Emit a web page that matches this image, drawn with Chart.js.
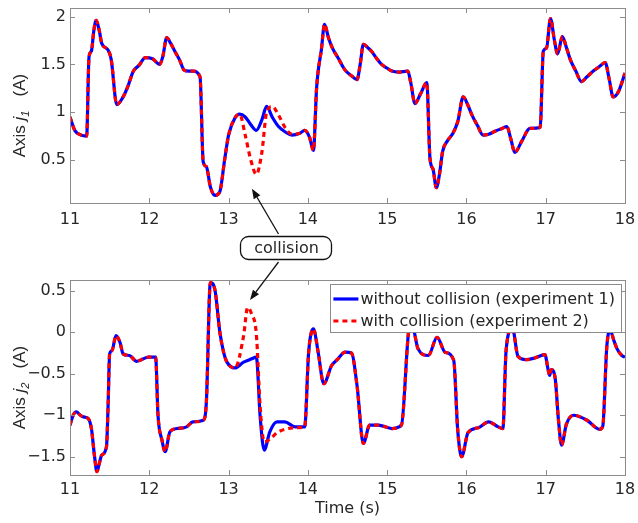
<!DOCTYPE html>
<html><head><meta charset="utf-8">
<script src="https://cdn.jsdelivr.net/npm/chart.js@4"></script>
<style>
html,body{margin:0;padding:0;background:#fff;}
#wrap{position:relative;width:638px;height:523px;overflow:hidden;}
canvas{position:absolute;left:0;top:0;}
</style></head><body>
<div id="wrap"><canvas id="c1" width="638" height="523"></canvas><canvas id="c2" width="638" height="523"></canvas></div>
<script>
// ---------- data ----------
const timeTop = [11.00,11.06,11.14,11.21,11.24,11.27,11.30,11.33,11.37,11.40,11.48,11.52,11.59,11.67,11.73,11.80,11.87,11.95,12.04,12.13,12.17,12.22,12.27,12.32,12.38,12.44,12.50,12.55,12.64,12.68,12.72,12.77,12.83,12.89,12.95,13.00,13.08,13.14,13.21,13.28,13.35,13.42,13.48,13.55,13.63,13.72,13.80,13.90,13.96,14.02,14.07,14.11,14.13,14.17,14.21,14.26,14.31,14.38,14.47,14.55,14.62,14.66,14.70,14.75,14.80,14.87,14.93,15.00,15.06,15.15,15.26,15.30,15.35,15.42,15.50,15.54,15.58,15.62,15.66,15.70,15.76,15.83,15.89,15.96,16.02,16.07,16.14,16.21,16.28,16.36,16.45,16.51,16.56,16.61,16.70,16.80,16.93,16.97,17.01,17.06,17.11,17.15,17.21,17.26,17.31,17.38,17.45,17.52,17.60,17.68,17.75,17.80,17.85,17.92,18.00];
const topExp1 = [0.95,0.81,0.76,0.75,1.58,1.64,1.85,1.96,1.85,1.72,1.65,1.55,1.08,1.16,1.27,1.43,1.49,1.57,1.56,1.50,1.58,1.78,1.72,1.64,1.55,1.44,1.43,1.43,1.37,0.48,0.43,0.22,0.13,0.17,0.50,0.76,0.94,0.98,0.95,0.87,0.81,0.92,1.06,0.95,0.85,0.79,0.76,0.78,0.81,0.74,0.60,1.25,1.43,1.65,1.92,1.78,1.67,1.57,1.44,1.38,1.34,1.50,1.71,1.68,1.64,1.56,1.50,1.46,1.43,1.42,1.43,1.30,1.09,1.19,1.31,0.52,0.40,0.21,0.35,0.59,0.70,0.78,0.90,1.16,1.07,0.97,0.86,0.76,0.77,0.80,0.83,0.85,0.72,0.58,0.70,0.83,0.84,1.64,1.67,1.98,1.75,1.61,1.79,1.68,1.55,1.43,1.32,1.37,1.43,1.48,1.52,1.35,1.16,1.22,1.41];
const topExp2 = [0.95,0.81,0.76,0.75,1.58,1.64,1.85,1.96,1.85,1.72,1.65,1.55,1.08,1.16,1.27,1.43,1.49,1.57,1.56,1.50,1.58,1.78,1.72,1.64,1.55,1.44,1.43,1.43,1.37,0.48,0.43,0.22,0.13,0.17,0.50,0.76,0.94,0.98,0.76,0.50,0.35,0.58,1.00,1.06,0.97,0.83,0.77,0.78,0.81,0.74,0.60,1.25,1.43,1.65,1.92,1.78,1.67,1.57,1.44,1.38,1.34,1.50,1.71,1.68,1.64,1.56,1.50,1.46,1.43,1.42,1.43,1.30,1.09,1.19,1.31,0.52,0.40,0.21,0.35,0.59,0.70,0.78,0.90,1.16,1.07,0.97,0.86,0.76,0.77,0.80,0.83,0.85,0.72,0.58,0.70,0.83,0.84,1.64,1.67,1.98,1.75,1.61,1.79,1.68,1.55,1.43,1.32,1.37,1.43,1.48,1.52,1.35,1.16,1.22,1.41];

const timeBottom = [11.00,11.04,11.08,11.13,11.17,11.23,11.27,11.31,11.34,11.37,11.40,11.46,11.48,11.50,11.53,11.58,11.63,11.67,11.75,11.84,11.90,11.99,12.08,12.11,12.16,12.20,12.26,12.35,12.47,12.55,12.68,12.72,12.77,12.83,12.89,12.94,12.98,13.08,13.19,13.24,13.29,13.35,13.40,13.45,13.52,13.61,13.71,13.84,13.96,14.01,14.07,14.13,14.20,14.30,14.37,14.47,14.55,14.62,14.70,14.78,14.89,15.06,15.18,15.27,15.31,15.39,15.52,15.63,15.73,15.84,15.89,15.94,16.02,16.15,16.28,16.40,16.46,16.50,16.58,16.65,16.75,16.86,16.99,17.03,17.05,17.07,17.12,17.16,17.20,17.26,17.35,17.52,17.68,17.72,17.77,17.81,17.86,17.90,17.96,18.00];
const bottomExp1 = [-1.12,-1.00,-0.96,-1.00,-1.02,-1.04,-1.16,-1.50,-1.68,-1.58,-1.48,-1.38,-0.90,-0.26,-0.22,-0.04,-0.12,-0.26,-0.28,-0.35,-0.33,-0.30,-0.30,-1.00,-1.30,-1.44,-1.20,-1.16,-1.14,-1.08,-1.06,-0.84,0.60,0.50,0.00,-0.25,-0.36,-0.43,-0.36,-0.34,-0.32,-0.30,-1.04,-1.42,-1.20,-1.08,-1.08,-1.14,-1.14,-0.24,0.04,-0.24,-0.62,-0.40,-0.33,-0.24,-0.25,-0.64,-1.34,-1.12,-1.12,-1.16,-1.12,0.00,0.10,-0.20,-0.28,-0.06,-0.24,-0.34,-1.18,-1.50,-1.21,-1.15,-1.08,-1.14,-1.16,-0.22,0.05,-0.29,-0.33,-0.31,-0.27,-0.45,-0.52,-0.45,-0.56,-1.05,-1.36,-1.11,-1.00,-1.06,-1.17,-1.13,-0.18,0.03,-0.10,-0.20,-0.28,-0.30];
const bottomExp2 = [-1.12,-1.00,-0.96,-1.00,-1.02,-1.04,-1.16,-1.50,-1.68,-1.58,-1.48,-1.38,-0.90,-0.26,-0.22,-0.04,-0.12,-0.26,-0.28,-0.35,-0.33,-0.30,-0.30,-1.00,-1.30,-1.44,-1.20,-1.16,-1.14,-1.08,-1.06,-0.84,0.60,0.50,0.00,-0.25,-0.36,-0.43,-0.04,0.30,0.22,-0.02,-0.92,-1.32,-1.29,-1.21,-1.17,-1.15,-1.14,-0.24,0.04,-0.24,-0.62,-0.40,-0.33,-0.24,-0.25,-0.64,-1.34,-1.12,-1.12,-1.16,-1.12,0.00,0.10,-0.20,-0.28,-0.06,-0.24,-0.34,-1.18,-1.50,-1.21,-1.15,-1.08,-1.14,-1.16,-0.22,0.05,-0.29,-0.33,-0.31,-0.27,-0.45,-0.52,-0.45,-0.56,-1.05,-1.36,-1.11,-1.00,-1.06,-1.17,-1.13,-0.18,0.03,-0.10,-0.20,-0.28,-0.30];

const seriesLabels = ['without collision (experiment 1)', 'with collision (experiment 2)'];
const yTitles = ['1', '2'];        // joint subscripts for "Axis j_n (A)"
const xTitle = 'Time (s)';
const noteText = 'collision';
const noteTipTop = {x: 13.295, y: 0.20};     // arrow tip, data coords of upper axes
const noteTipBottom = {x: 13.27, y: 0.39};   // arrow tip, data coords of lower axes

// ---------- styling ----------
const TXT = '#262626';
const FRAME = '#8c8c8c';
const TICKFONT = {family: '"DejaVu Sans", sans-serif', size: 16};
const charts = {};

function fmt(v){ const r = Math.round(v*100)/100; return (r < 0 ? '\u2212' : '') + Math.abs(r); }

const framePlugin = {
  id: 'frame',
  afterDraw(chart){
    const {ctx, chartArea: a, scales} = chart;
    ctx.save();
    ctx.strokeStyle = FRAME; ctx.lineWidth = 1;
    ctx.strokeRect(Math.round(a.left)+0.5, Math.round(a.top)+0.5, Math.round(a.right-a.left), Math.round(a.bottom-a.top));
    ctx.beginPath();
    const L = 5;
    scales.x.ticks.forEach(t => {
      const x = Math.round(scales.x.getPixelForValue(t.value)) + 0.5;
      ctx.moveTo(x, a.bottom); ctx.lineTo(x, a.bottom - L);
      ctx.moveTo(x, a.top); ctx.lineTo(x, a.top + L);
    });
    scales.y.ticks.forEach(t => {
      const y = Math.round(scales.y.getPixelForValue(t.value)) + 0.5;
      ctx.moveTo(a.left, y); ctx.lineTo(a.left + L, y);
      ctx.moveTo(a.right, y); ctx.lineTo(a.right - L, y);
    });
    ctx.stroke();
    // y title: "Axis j_n (A)"
    const sub = chart.options.yTitleSub;
    const cy = (a.top + a.bottom) / 2 + 10;
    ctx.translate(19, cy);
    ctx.rotate(-Math.PI/2);
    const fam = '"Liberation Sans", Arial, sans-serif';
    const parts = [['Axis ', '17px ' + fam, 0], ['j', 'italic 17px ' + fam, 0], [sub, 'italic 11px ' + fam, 4], ['   (A)', '17px ' + fam, 0]];
    let total = 0;
    parts.forEach(p => { ctx.font = p[1]; p.push(ctx.measureText(p[0]).width); total += p[3]; });
    let u = -total/2;
    ctx.fillStyle = TXT; ctx.textBaseline = 'alphabetic'; ctx.textAlign = 'left';
    parts.forEach(p => { ctx.font = p[1]; ctx.fillText(p[0], u, 6 + p[2]); u += p[3]; });
    ctx.restore();
  }
};

const legendPlugin = {
  id: 'inlegend',
  afterDraw(chart){
    if (!chart.options.showInLegend) return;
    const {ctx, chartArea: a} = chart;
    ctx.save();
    ctx.font = '16px "DejaVu Sans", sans-serif';
    const ds = chart.data.datasets;
    const sampleW = 25, gap = 2, padL = 3, padR = 6, rowH = 22;
    let tw = 0; ds.forEach(d => tw = Math.max(tw, ctx.measureText(d.label).width));
    const w = padL + sampleW + gap + tw + padR, h = ds.length * rowH + 4;
    const x0 = a.right - 4 - w, y0 = a.top + 4;
    ctx.fillStyle = '#fff'; ctx.fillRect(x0, y0, w, h);
    ctx.strokeStyle = FRAME; ctx.lineWidth = 1; ctx.strokeRect(Math.round(x0)+0.5, Math.round(y0)+0.5, Math.round(w), Math.round(h));
    ds.forEach((d, i) => {
      const y = y0 + 15 + i * rowH;
      ctx.beginPath(); ctx.strokeStyle = d.borderColor; ctx.lineWidth = d.borderWidth;
      ctx.setLineDash(d.borderDash || []);
      ctx.moveTo(x0 + padL, y); ctx.lineTo(x0 + padL + sampleW, y); ctx.stroke();
      ctx.setLineDash([]);
      ctx.fillStyle = TXT; ctx.textBaseline = 'middle'; ctx.textAlign = 'left';
      ctx.fillText(d.label, x0 + padL + sampleW + gap, y + 1);
    });
    ctx.restore();
  }
};

function arrow(ctx, x1, y1, x2, y2){
  const ang = Math.atan2(y2 - y1, x2 - x1), hl = 10, hw = 3.8;
  const bx = x2 - hl * Math.cos(ang), by = y2 - hl * Math.sin(ang);
  ctx.beginPath(); ctx.moveTo(x1, y1); ctx.lineTo(bx, by); ctx.stroke();
  ctx.beginPath(); ctx.moveTo(x2, y2);
  ctx.lineTo(bx + hw * Math.sin(ang), by - hw * Math.cos(ang));
  ctx.lineTo(bx - hw * Math.sin(ang), by + hw * Math.cos(ang));
  ctx.closePath(); ctx.fill();
}

const notePlugin = {
  id: 'note',
  afterDraw(chart){
    if (!chart.options.drawNote || !charts.top) return;
    const ctx = chart.ctx, top = charts.top;
    const gapTop = top.chartArea.bottom, gapBot = chart.chartArea.top;
    const bx = 240, bw = 91, bh = 23, by = (gapTop + gapBot) / 2 - bh/2 + 6;
    const cx = bx + bw/2 - 7;
    ctx.save();
    ctx.strokeStyle = '#111'; ctx.fillStyle = '#111'; ctx.lineWidth = 1.3;
    const t1x = top.scales.x.getPixelForValue(noteTipTop.x), t1y = top.scales.y.getPixelForValue(noteTipTop.y);
    const t2x = chart.scales.x.getPixelForValue(noteTipBottom.x), t2y = chart.scales.y.getPixelForValue(noteTipBottom.y);
    arrow(ctx, cx, by - 2, t1x, t1y);
    arrow(ctx, cx, by + bh + 3, t2x, t2y);
    ctx.beginPath(); ctx.roundRect(bx + 0.5, by + 0.5, bw, bh, 8);
    ctx.fillStyle = '#fff'; ctx.fill(); ctx.stroke();
    ctx.fillStyle = TXT; ctx.font = '16px "DejaVu Sans", sans-serif';
    ctx.textAlign = 'center'; ctx.textBaseline = 'middle';
    ctx.fillText(noteText, bx + bw/2 + 1, by + bh/2 + 1);
    ctx.restore();
  }
};

function zeroPad(s){ s.paddingLeft = 0; s.paddingRight = 0; s.paddingTop = 0; s.paddingBottom = 0; }

function makeChart(id, time, e1, e2, cfg){
  return new Chart(document.getElementById(id), {
    type: 'line',
    data: { datasets: [
      { label: seriesLabels[0], data: time.map((t, i) => ({x: t, y: e1[i]})), borderColor: '#0000ff', borderWidth: 3.2,
        pointRadius: 0, order: 1, cubicInterpolationMode: 'monotone', clip: 0, fill: false },
      { label: seriesLabels[1], data: time.map((t, i) => ({x: t, y: e2[i]})), borderColor: '#ff0000', borderWidth: 3.2,
        borderDash: [5, 4], borderCapStyle: 'butt', pointRadius: 0, order: 0, cubicInterpolationMode: 'monotone', clip: 0, fill: false }
    ]},
    options: {
      responsive: false, animation: false, devicePixelRatio: 1,
      yTitleSub: cfg.sub, showInLegend: cfg.legend, drawNote: cfg.note,
      layout: { padding: cfg.padding },
      plugins: { legend: { display: false }, tooltip: { enabled: false } },
      scales: {
        x: { type: 'linear', min: 11, max: 18,
             grid: { display: false, drawTicks: false }, border: { display: false },
             ticks: { stepSize: 1, font: TICKFONT, color: TXT, padding: cfg.xpad, maxRotation: 0 },
             title: cfg.xtitle ? { display: true, text: xTitle, color: TXT, font: {family: '"DejaVu Sans", sans-serif', size: 16}, padding: {top: 0, bottom: 5} } : { display: false },
             afterFit: s => { s.height = cfg.xh; zeroPad(s); } },
        y: { type: 'linear', min: cfg.ymin, max: cfg.ymax,
             grid: { display: false, drawTicks: false }, border: { display: false },
             ticks: { stepSize: 0.5, includeBounds: false, font: TICKFONT, color: TXT, padding: 4, callback: fmt },
             afterFit: s => { s.width = 70; zeroPad(s); } }
      }
    },
    plugins: [framePlugin, legendPlugin, notePlugin]
  });
}

charts.top = makeChart('c1', timeTop, topExp1, topExp2,
  { sub: yTitles[0], legend: false, note: false, ymin: 0.05, ymax: 2.09, xh: 30, xtitle: false, xpad: 7,
    padding: { left: 0, right: 13, top: 8, bottom: 290 } });
charts.bottom = makeChart('c2', timeBottom, bottomExp1, bottomExp2,
  { sub: yTitles[1], legend: true, note: true, ymin: -1.72, ymax: 0.63, xh: 48, xtitle: true, xpad: 5,
    padding: { left: 0, right: 13, top: 280, bottom: 0 } });
</script>
</body></html>
